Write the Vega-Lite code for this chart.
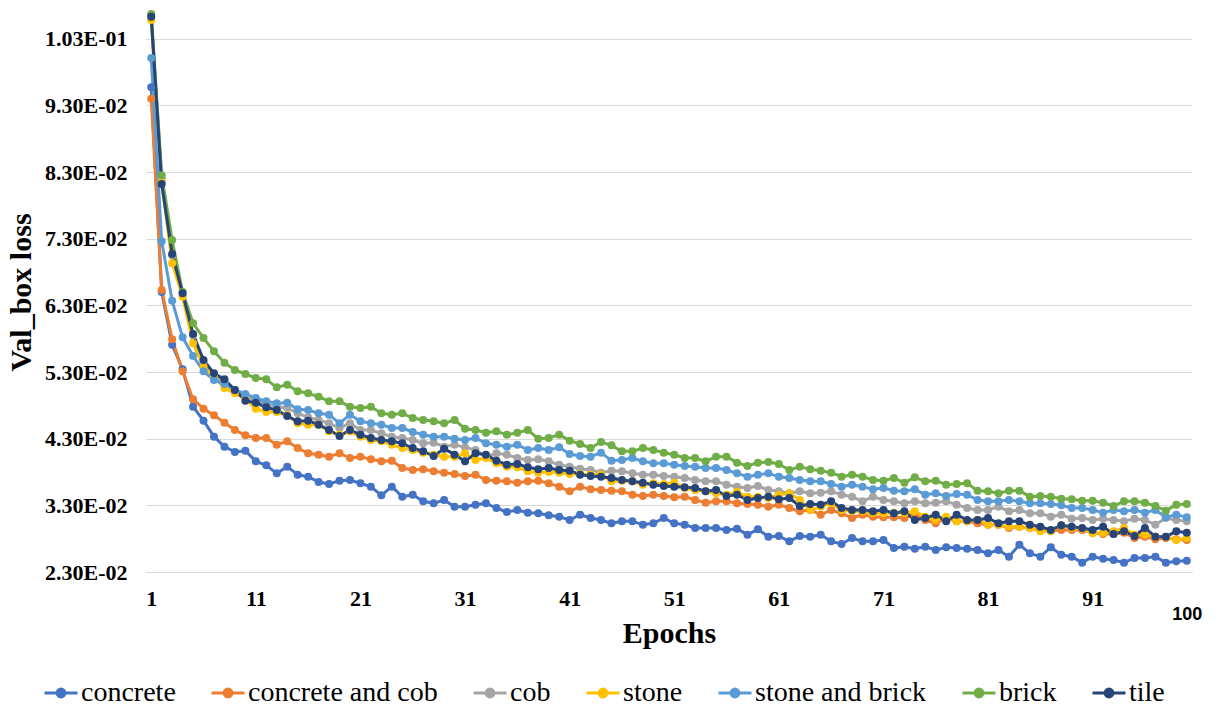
{
  "$schema": "https://vega.github.io/schema/vega-lite/v6.json",
  "autosize": {"type": "none"},
  "padding": {"left": 146, "top": 12, "right": 26, "bottom": 137},
  "width": 1046,
  "height": 560,
  "background": "white",
  "config": {
    "view": {"stroke": null},
    "axis": {
      "labelFont": "Liberation Serif",
      "labelFontWeight": "bold",
      "labelColor": "#000000",
      "titleFont": "Liberation Serif",
      "titleFontWeight": "bold",
      "titleColor": "#000000",
      "ticks": false
    },
    "legend": {
      "labelFont": "Liberation Serif",
      "labelFontSize": 28,
      "labelColor": "#000000"
    }
  },
  "data": {"values": [
    {"epoch":1,"material":"concrete","loss":0.0957},{"epoch":2,"material":"concrete","loss":0.0650},{"epoch":3,"material":"concrete","loss":0.0571},{"epoch":4,"material":"concrete","loss":0.0534},{"epoch":5,"material":"concrete","loss":0.0478},{"epoch":6,"material":"concrete","loss":0.0457},{"epoch":7,"material":"concrete","loss":0.0433},{"epoch":8,"material":"concrete","loss":0.0418},{"epoch":9,"material":"concrete","loss":0.0410},{"epoch":10,"material":"concrete","loss":0.0412},
    {"epoch":11,"material":"concrete","loss":0.0396},{"epoch":12,"material":"concrete","loss":0.0390},{"epoch":13,"material":"concrete","loss":0.0378},{"epoch":14,"material":"concrete","loss":0.0388},{"epoch":15,"material":"concrete","loss":0.0376},{"epoch":16,"material":"concrete","loss":0.0373},{"epoch":17,"material":"concrete","loss":0.0365},{"epoch":18,"material":"concrete","loss":0.0362},{"epoch":19,"material":"concrete","loss":0.0367},{"epoch":20,"material":"concrete","loss":0.0368},
    {"epoch":21,"material":"concrete","loss":0.0363},{"epoch":22,"material":"concrete","loss":0.0358},{"epoch":23,"material":"concrete","loss":0.0345},{"epoch":24,"material":"concrete","loss":0.0358},{"epoch":25,"material":"concrete","loss":0.0343},{"epoch":26,"material":"concrete","loss":0.0346},{"epoch":27,"material":"concrete","loss":0.0336},{"epoch":28,"material":"concrete","loss":0.0333},{"epoch":29,"material":"concrete","loss":0.0338},{"epoch":30,"material":"concrete","loss":0.0328},
    {"epoch":31,"material":"concrete","loss":0.0328},{"epoch":32,"material":"concrete","loss":0.0331},{"epoch":33,"material":"concrete","loss":0.0333},{"epoch":34,"material":"concrete","loss":0.0326},{"epoch":35,"material":"concrete","loss":0.0320},{"epoch":36,"material":"concrete","loss":0.0323},{"epoch":37,"material":"concrete","loss":0.0319},{"epoch":38,"material":"concrete","loss":0.0318},{"epoch":39,"material":"concrete","loss":0.0315},{"epoch":40,"material":"concrete","loss":0.0313},
    {"epoch":41,"material":"concrete","loss":0.0308},{"epoch":42,"material":"concrete","loss":0.0316},{"epoch":43,"material":"concrete","loss":0.0311},{"epoch":44,"material":"concrete","loss":0.0308},{"epoch":45,"material":"concrete","loss":0.0303},{"epoch":46,"material":"concrete","loss":0.0306},{"epoch":47,"material":"concrete","loss":0.0306},{"epoch":48,"material":"concrete","loss":0.0301},{"epoch":49,"material":"concrete","loss":0.0303},{"epoch":50,"material":"concrete","loss":0.0311},
    {"epoch":51,"material":"concrete","loss":0.0303},{"epoch":52,"material":"concrete","loss":0.0301},{"epoch":53,"material":"concrete","loss":0.0296},{"epoch":54,"material":"concrete","loss":0.0296},{"epoch":55,"material":"concrete","loss":0.0296},{"epoch":56,"material":"concrete","loss":0.0293},{"epoch":57,"material":"concrete","loss":0.0295},{"epoch":58,"material":"concrete","loss":0.0286},{"epoch":59,"material":"concrete","loss":0.0294},{"epoch":60,"material":"concrete","loss":0.0283},
    {"epoch":61,"material":"concrete","loss":0.0284},{"epoch":62,"material":"concrete","loss":0.0276},{"epoch":63,"material":"concrete","loss":0.0284},{"epoch":64,"material":"concrete","loss":0.0283},{"epoch":65,"material":"concrete","loss":0.0286},{"epoch":66,"material":"concrete","loss":0.0276},{"epoch":67,"material":"concrete","loss":0.0272},{"epoch":68,"material":"concrete","loss":0.0281},{"epoch":69,"material":"concrete","loss":0.0276},{"epoch":70,"material":"concrete","loss":0.0276},
    {"epoch":71,"material":"concrete","loss":0.0278},{"epoch":72,"material":"concrete","loss":0.0266},{"epoch":73,"material":"concrete","loss":0.0268},{"epoch":74,"material":"concrete","loss":0.0265},{"epoch":75,"material":"concrete","loss":0.0268},{"epoch":76,"material":"concrete","loss":0.0263},{"epoch":77,"material":"concrete","loss":0.0267},{"epoch":78,"material":"concrete","loss":0.0266},{"epoch":79,"material":"concrete","loss":0.0265},{"epoch":80,"material":"concrete","loss":0.0263},
    {"epoch":81,"material":"concrete","loss":0.0258},{"epoch":82,"material":"concrete","loss":0.0263},{"epoch":83,"material":"concrete","loss":0.0253},{"epoch":84,"material":"concrete","loss":0.0271},{"epoch":85,"material":"concrete","loss":0.0258},{"epoch":86,"material":"concrete","loss":0.0253},{"epoch":87,"material":"concrete","loss":0.0267},{"epoch":88,"material":"concrete","loss":0.0256},{"epoch":89,"material":"concrete","loss":0.0253},{"epoch":90,"material":"concrete","loss":0.0244},
    {"epoch":91,"material":"concrete","loss":0.0253},{"epoch":92,"material":"concrete","loss":0.0250},{"epoch":93,"material":"concrete","loss":0.0248},{"epoch":94,"material":"concrete","loss":0.0244},{"epoch":95,"material":"concrete","loss":0.0251},{"epoch":96,"material":"concrete","loss":0.0251},{"epoch":97,"material":"concrete","loss":0.0253},{"epoch":98,"material":"concrete","loss":0.0244},{"epoch":99,"material":"concrete","loss":0.0246},{"epoch":100,"material":"concrete","loss":0.0247},

    {"epoch":1,"material":"concrete and cob","loss":0.0940},{"epoch":2,"material":"concrete and cob","loss":0.0653},{"epoch":3,"material":"concrete and cob","loss":0.0579},{"epoch":4,"material":"concrete and cob","loss":0.0531},{"epoch":5,"material":"concrete and cob","loss":0.0489},{"epoch":6,"material":"concrete and cob","loss":0.0475},{"epoch":7,"material":"concrete and cob","loss":0.0465},{"epoch":8,"material":"concrete and cob","loss":0.0454},{"epoch":9,"material":"concrete and cob","loss":0.0443},{"epoch":10,"material":"concrete and cob","loss":0.0435},
    {"epoch":11,"material":"concrete and cob","loss":0.0431},{"epoch":12,"material":"concrete and cob","loss":0.0431},{"epoch":13,"material":"concrete and cob","loss":0.0421},{"epoch":14,"material":"concrete and cob","loss":0.0426},{"epoch":15,"material":"concrete and cob","loss":0.0416},{"epoch":16,"material":"concrete and cob","loss":0.0408},{"epoch":17,"material":"concrete and cob","loss":0.0406},{"epoch":18,"material":"concrete and cob","loss":0.0403},{"epoch":19,"material":"concrete and cob","loss":0.0408},{"epoch":20,"material":"concrete and cob","loss":0.0401},
    {"epoch":21,"material":"concrete and cob","loss":0.0403},{"epoch":22,"material":"concrete and cob","loss":0.0399},{"epoch":23,"material":"concrete and cob","loss":0.0396},{"epoch":24,"material":"concrete and cob","loss":0.0397},{"epoch":25,"material":"concrete and cob","loss":0.0386},{"epoch":26,"material":"concrete and cob","loss":0.0383},{"epoch":27,"material":"concrete and cob","loss":0.0384},{"epoch":28,"material":"concrete and cob","loss":0.0381},{"epoch":29,"material":"concrete and cob","loss":0.0379},{"epoch":30,"material":"concrete and cob","loss":0.0377},
    {"epoch":31,"material":"concrete and cob","loss":0.0374},{"epoch":32,"material":"concrete and cob","loss":0.0376},{"epoch":33,"material":"concrete and cob","loss":0.0368},{"epoch":34,"material":"concrete and cob","loss":0.0367},{"epoch":35,"material":"concrete and cob","loss":0.0366},{"epoch":36,"material":"concrete and cob","loss":0.0364},{"epoch":37,"material":"concrete and cob","loss":0.0366},{"epoch":38,"material":"concrete and cob","loss":0.0367},{"epoch":39,"material":"concrete and cob","loss":0.0363},{"epoch":40,"material":"concrete and cob","loss":0.0358},
    {"epoch":41,"material":"concrete and cob","loss":0.0351},{"epoch":42,"material":"concrete and cob","loss":0.0358},{"epoch":43,"material":"concrete and cob","loss":0.0354},{"epoch":44,"material":"concrete and cob","loss":0.0353},{"epoch":45,"material":"concrete and cob","loss":0.0352},{"epoch":46,"material":"concrete and cob","loss":0.0351},{"epoch":47,"material":"concrete and cob","loss":0.0346},{"epoch":48,"material":"concrete and cob","loss":0.0344},{"epoch":49,"material":"concrete and cob","loss":0.0346},{"epoch":50,"material":"concrete and cob","loss":0.0344},
    {"epoch":51,"material":"concrete and cob","loss":0.0342},{"epoch":52,"material":"concrete and cob","loss":0.0343},{"epoch":53,"material":"concrete and cob","loss":0.0338},{"epoch":54,"material":"concrete and cob","loss":0.0334},{"epoch":55,"material":"concrete and cob","loss":0.0336},{"epoch":56,"material":"concrete and cob","loss":0.0336},{"epoch":57,"material":"concrete and cob","loss":0.0333},{"epoch":58,"material":"concrete and cob","loss":0.0332},{"epoch":59,"material":"concrete and cob","loss":0.0331},{"epoch":60,"material":"concrete and cob","loss":0.0328},
    {"epoch":61,"material":"concrete and cob","loss":0.0331},{"epoch":62,"material":"concrete and cob","loss":0.0326},{"epoch":63,"material":"concrete and cob","loss":0.0321},{"epoch":64,"material":"concrete and cob","loss":0.0323},{"epoch":65,"material":"concrete and cob","loss":0.0316},{"epoch":66,"material":"concrete and cob","loss":0.0323},{"epoch":67,"material":"concrete and cob","loss":0.0318},{"epoch":68,"material":"concrete and cob","loss":0.0311},{"epoch":69,"material":"concrete and cob","loss":0.0316},{"epoch":70,"material":"concrete and cob","loss":0.0313},
    {"epoch":71,"material":"concrete and cob","loss":0.0312},{"epoch":72,"material":"concrete and cob","loss":0.0312},{"epoch":73,"material":"concrete and cob","loss":0.0311},{"epoch":74,"material":"concrete and cob","loss":0.0316},{"epoch":75,"material":"concrete and cob","loss":0.0308},{"epoch":76,"material":"concrete and cob","loss":0.0303},{"epoch":77,"material":"concrete and cob","loss":0.0311},{"epoch":78,"material":"concrete and cob","loss":0.0306},{"epoch":79,"material":"concrete and cob","loss":0.0306},{"epoch":80,"material":"concrete and cob","loss":0.0303},
    {"epoch":81,"material":"concrete and cob","loss":0.0301},{"epoch":82,"material":"concrete and cob","loss":0.0301},{"epoch":83,"material":"concrete and cob","loss":0.0296},{"epoch":84,"material":"concrete and cob","loss":0.0298},{"epoch":85,"material":"concrete and cob","loss":0.0296},{"epoch":86,"material":"concrete and cob","loss":0.0293},{"epoch":87,"material":"concrete and cob","loss":0.0292},{"epoch":88,"material":"concrete and cob","loss":0.0293},{"epoch":89,"material":"concrete and cob","loss":0.0293},{"epoch":90,"material":"concrete and cob","loss":0.0293},
    {"epoch":91,"material":"concrete and cob","loss":0.0289},{"epoch":92,"material":"concrete and cob","loss":0.0287},{"epoch":93,"material":"concrete and cob","loss":0.0287},{"epoch":94,"material":"concrete and cob","loss":0.0289},{"epoch":95,"material":"concrete and cob","loss":0.0281},{"epoch":96,"material":"concrete and cob","loss":0.0283},{"epoch":97,"material":"concrete and cob","loss":0.0279},{"epoch":98,"material":"concrete and cob","loss":0.0281},{"epoch":99,"material":"concrete and cob","loss":0.0279},{"epoch":100,"material":"concrete and cob","loss":0.0278},

    {"epoch":1,"material":"cob","loss":0.1065},{"epoch":2,"material":"cob","loss":0.0820},{"epoch":3,"material":"cob","loss":0.0705},{"epoch":4,"material":"cob","loss":0.0645},{"epoch":5,"material":"cob","loss":0.0585},{"epoch":6,"material":"cob","loss":0.0545},{"epoch":7,"material":"cob","loss":0.0525},{"epoch":8,"material":"cob","loss":0.0515},{"epoch":9,"material":"cob","loss":0.0500},{"epoch":10,"material":"cob","loss":0.0492},
    {"epoch":11,"material":"cob","loss":0.0488},{"epoch":12,"material":"cob","loss":0.0482},{"epoch":13,"material":"cob","loss":0.0478},{"epoch":14,"material":"cob","loss":0.0476},{"epoch":15,"material":"cob","loss":0.0468},{"epoch":16,"material":"cob","loss":0.0462},{"epoch":17,"material":"cob","loss":0.0458},{"epoch":18,"material":"cob","loss":0.0453},{"epoch":19,"material":"cob","loss":0.0446},{"epoch":20,"material":"cob","loss":0.0453},
    {"epoch":21,"material":"cob","loss":0.0443},{"epoch":22,"material":"cob","loss":0.0443},{"epoch":23,"material":"cob","loss":0.0438},{"epoch":24,"material":"cob","loss":0.0433},{"epoch":25,"material":"cob","loss":0.0431},{"epoch":26,"material":"cob","loss":0.0428},{"epoch":27,"material":"cob","loss":0.0423},{"epoch":28,"material":"cob","loss":0.0424},{"epoch":29,"material":"cob","loss":0.0418},{"epoch":30,"material":"cob","loss":0.0421},
    {"epoch":31,"material":"cob","loss":0.0417},{"epoch":32,"material":"cob","loss":0.0413},{"epoch":33,"material":"cob","loss":0.0403},{"epoch":34,"material":"cob","loss":0.0408},{"epoch":35,"material":"cob","loss":0.0406},{"epoch":36,"material":"cob","loss":0.0401},{"epoch":37,"material":"cob","loss":0.0398},{"epoch":38,"material":"cob","loss":0.0399},{"epoch":39,"material":"cob","loss":0.0396},{"epoch":40,"material":"cob","loss":0.0391},
    {"epoch":41,"material":"cob","loss":0.0388},{"epoch":42,"material":"cob","loss":0.0385},{"epoch":43,"material":"cob","loss":0.0383},{"epoch":44,"material":"cob","loss":0.0379},{"epoch":45,"material":"cob","loss":0.0382},{"epoch":46,"material":"cob","loss":0.0381},{"epoch":47,"material":"cob","loss":0.0378},{"epoch":48,"material":"cob","loss":0.0376},{"epoch":49,"material":"cob","loss":0.0376},{"epoch":50,"material":"cob","loss":0.0374},
    {"epoch":51,"material":"cob","loss":0.0373},{"epoch":52,"material":"cob","loss":0.0371},{"epoch":53,"material":"cob","loss":0.0368},{"epoch":54,"material":"cob","loss":0.0366},{"epoch":55,"material":"cob","loss":0.0366},{"epoch":56,"material":"cob","loss":0.0361},{"epoch":57,"material":"cob","loss":0.0358},{"epoch":58,"material":"cob","loss":0.0356},{"epoch":59,"material":"cob","loss":0.0359},{"epoch":60,"material":"cob","loss":0.0353},
    {"epoch":61,"material":"cob","loss":0.0351},{"epoch":62,"material":"cob","loss":0.0348},{"epoch":63,"material":"cob","loss":0.0351},{"epoch":64,"material":"cob","loss":0.0348},{"epoch":65,"material":"cob","loss":0.0349},{"epoch":66,"material":"cob","loss":0.0351},{"epoch":67,"material":"cob","loss":0.0346},{"epoch":68,"material":"cob","loss":0.0343},{"epoch":69,"material":"cob","loss":0.0336},{"epoch":70,"material":"cob","loss":0.0343},
    {"epoch":71,"material":"cob","loss":0.0338},{"epoch":72,"material":"cob","loss":0.0336},{"epoch":73,"material":"cob","loss":0.0333},{"epoch":74,"material":"cob","loss":0.0336},{"epoch":75,"material":"cob","loss":0.0333},{"epoch":76,"material":"cob","loss":0.0334},{"epoch":77,"material":"cob","loss":0.0336},{"epoch":78,"material":"cob","loss":0.0331},{"epoch":79,"material":"cob","loss":0.0326},{"epoch":80,"material":"cob","loss":0.0323},
    {"epoch":81,"material":"cob","loss":0.0323},{"epoch":82,"material":"cob","loss":0.0328},{"epoch":83,"material":"cob","loss":0.0321},{"epoch":84,"material":"cob","loss":0.0323},{"epoch":85,"material":"cob","loss":0.0318},{"epoch":86,"material":"cob","loss":0.0318},{"epoch":87,"material":"cob","loss":0.0313},{"epoch":88,"material":"cob","loss":0.0316},{"epoch":89,"material":"cob","loss":0.0310},{"epoch":90,"material":"cob","loss":0.0311},
    {"epoch":91,"material":"cob","loss":0.0308},{"epoch":92,"material":"cob","loss":0.0310},{"epoch":93,"material":"cob","loss":0.0308},{"epoch":94,"material":"cob","loss":0.0306},{"epoch":95,"material":"cob","loss":0.0310},{"epoch":96,"material":"cob","loss":0.0308},{"epoch":97,"material":"cob","loss":0.0301},{"epoch":98,"material":"cob","loss":0.0311},{"epoch":99,"material":"cob","loss":0.0308},{"epoch":100,"material":"cob","loss":0.0306},

    {"epoch":1,"material":"stone","loss":0.1058},{"epoch":2,"material":"stone","loss":0.0815},{"epoch":3,"material":"stone","loss":0.0693},{"epoch":4,"material":"stone","loss":0.0643},{"epoch":5,"material":"stone","loss":0.0573},{"epoch":6,"material":"stone","loss":0.0538},{"epoch":7,"material":"stone","loss":0.0523},{"epoch":8,"material":"stone","loss":0.0506},{"epoch":9,"material":"stone","loss":0.0498},{"epoch":10,"material":"stone","loss":0.0490},
    {"epoch":11,"material":"stone","loss":0.0475},{"epoch":12,"material":"stone","loss":0.0470},{"epoch":13,"material":"stone","loss":0.0470},{"epoch":14,"material":"stone","loss":0.0465},{"epoch":15,"material":"stone","loss":0.0453},{"epoch":16,"material":"stone","loss":0.0451},{"epoch":17,"material":"stone","loss":0.0451},{"epoch":18,"material":"stone","loss":0.0441},{"epoch":19,"material":"stone","loss":0.0436},{"epoch":20,"material":"stone","loss":0.0441},
    {"epoch":21,"material":"stone","loss":0.0433},{"epoch":22,"material":"stone","loss":0.0428},{"epoch":23,"material":"stone","loss":0.0426},{"epoch":24,"material":"stone","loss":0.0421},{"epoch":25,"material":"stone","loss":0.0416},{"epoch":26,"material":"stone","loss":0.0413},{"epoch":27,"material":"stone","loss":0.0409},{"epoch":28,"material":"stone","loss":0.0406},{"epoch":29,"material":"stone","loss":0.0403},{"epoch":30,"material":"stone","loss":0.0403},
    {"epoch":31,"material":"stone","loss":0.0408},{"epoch":32,"material":"stone","loss":0.0398},{"epoch":33,"material":"stone","loss":0.0401},{"epoch":34,"material":"stone","loss":0.0393},{"epoch":35,"material":"stone","loss":0.0388},{"epoch":36,"material":"stone","loss":0.0387},{"epoch":37,"material":"stone","loss":0.0381},{"epoch":38,"material":"stone","loss":0.0379},{"epoch":39,"material":"stone","loss":0.0380},{"epoch":40,"material":"stone","loss":0.0379},
    {"epoch":41,"material":"stone","loss":0.0377},{"epoch":42,"material":"stone","loss":0.0377},{"epoch":43,"material":"stone","loss":0.0376},{"epoch":44,"material":"stone","loss":0.0376},{"epoch":45,"material":"stone","loss":0.0366},{"epoch":46,"material":"stone","loss":0.0367},{"epoch":47,"material":"stone","loss":0.0366},{"epoch":48,"material":"stone","loss":0.0361},{"epoch":49,"material":"stone","loss":0.0363},{"epoch":50,"material":"stone","loss":0.0362},
    {"epoch":51,"material":"stone","loss":0.0364},{"epoch":52,"material":"stone","loss":0.0356},{"epoch":53,"material":"stone","loss":0.0353},{"epoch":54,"material":"stone","loss":0.0351},{"epoch":55,"material":"stone","loss":0.0348},{"epoch":56,"material":"stone","loss":0.0346},{"epoch":57,"material":"stone","loss":0.0350},{"epoch":58,"material":"stone","loss":0.0343},{"epoch":59,"material":"stone","loss":0.0343},{"epoch":60,"material":"stone","loss":0.0341},
    {"epoch":61,"material":"stone","loss":0.0346},{"epoch":62,"material":"stone","loss":0.0348},{"epoch":63,"material":"stone","loss":0.0338},{"epoch":64,"material":"stone","loss":0.0323},{"epoch":65,"material":"stone","loss":0.0328},{"epoch":66,"material":"stone","loss":0.0333},{"epoch":67,"material":"stone","loss":0.0323},{"epoch":68,"material":"stone","loss":0.0321},{"epoch":69,"material":"stone","loss":0.0321},{"epoch":70,"material":"stone","loss":0.0318},
    {"epoch":71,"material":"stone","loss":0.0318},{"epoch":72,"material":"stone","loss":0.0319},{"epoch":73,"material":"stone","loss":0.0318},{"epoch":74,"material":"stone","loss":0.0321},{"epoch":75,"material":"stone","loss":0.0313},{"epoch":76,"material":"stone","loss":0.0308},{"epoch":77,"material":"stone","loss":0.0313},{"epoch":78,"material":"stone","loss":0.0306},{"epoch":79,"material":"stone","loss":0.0306},{"epoch":80,"material":"stone","loss":0.0308},
    {"epoch":81,"material":"stone","loss":0.0301},{"epoch":82,"material":"stone","loss":0.0301},{"epoch":83,"material":"stone","loss":0.0298},{"epoch":84,"material":"stone","loss":0.0298},{"epoch":85,"material":"stone","loss":0.0296},{"epoch":86,"material":"stone","loss":0.0291},{"epoch":87,"material":"stone","loss":0.0291},{"epoch":88,"material":"stone","loss":0.0300},{"epoch":89,"material":"stone","loss":0.0296},{"epoch":90,"material":"stone","loss":0.0295},
    {"epoch":91,"material":"stone","loss":0.0288},{"epoch":92,"material":"stone","loss":0.0289},{"epoch":93,"material":"stone","loss":0.0291},{"epoch":94,"material":"stone","loss":0.0296},{"epoch":95,"material":"stone","loss":0.0286},{"epoch":96,"material":"stone","loss":0.0286},{"epoch":97,"material":"stone","loss":0.0283},{"epoch":98,"material":"stone","loss":0.0283},{"epoch":99,"material":"stone","loss":0.0278},{"epoch":100,"material":"stone","loss":0.0281},

    {"epoch":1,"material":"stone and brick","loss":0.1001},{"epoch":2,"material":"stone and brick","loss":0.0726},{"epoch":3,"material":"stone and brick","loss":0.0637},{"epoch":4,"material":"stone and brick","loss":0.0582},{"epoch":5,"material":"stone and brick","loss":0.0554},{"epoch":6,"material":"stone and brick","loss":0.0531},{"epoch":7,"material":"stone and brick","loss":0.0518},{"epoch":8,"material":"stone and brick","loss":0.0512},{"epoch":9,"material":"stone and brick","loss":0.0503},{"epoch":10,"material":"stone and brick","loss":0.0497},
    {"epoch":11,"material":"stone and brick","loss":0.0491},{"epoch":12,"material":"stone and brick","loss":0.0486},{"epoch":13,"material":"stone and brick","loss":0.0483},{"epoch":14,"material":"stone and brick","loss":0.0484},{"epoch":15,"material":"stone and brick","loss":0.0474},{"epoch":16,"material":"stone and brick","loss":0.0473},{"epoch":17,"material":"stone and brick","loss":0.0468},{"epoch":18,"material":"stone and brick","loss":0.0466},{"epoch":19,"material":"stone and brick","loss":0.0453},{"epoch":20,"material":"stone and brick","loss":0.0466},
    {"epoch":21,"material":"stone and brick","loss":0.0456},{"epoch":22,"material":"stone and brick","loss":0.0453},{"epoch":23,"material":"stone and brick","loss":0.0451},{"epoch":24,"material":"stone and brick","loss":0.0446},{"epoch":25,"material":"stone and brick","loss":0.0446},{"epoch":26,"material":"stone and brick","loss":0.0440},{"epoch":27,"material":"stone and brick","loss":0.0436},{"epoch":28,"material":"stone and brick","loss":0.0433},{"epoch":29,"material":"stone and brick","loss":0.0433},{"epoch":30,"material":"stone and brick","loss":0.0430},
    {"epoch":31,"material":"stone and brick","loss":0.0428},{"epoch":32,"material":"stone and brick","loss":0.0431},{"epoch":33,"material":"stone and brick","loss":0.0423},{"epoch":34,"material":"stone and brick","loss":0.0421},{"epoch":35,"material":"stone and brick","loss":0.0418},{"epoch":36,"material":"stone and brick","loss":0.0421},{"epoch":37,"material":"stone and brick","loss":0.0413},{"epoch":38,"material":"stone and brick","loss":0.0416},{"epoch":39,"material":"stone and brick","loss":0.0413},{"epoch":40,"material":"stone and brick","loss":0.0417},
    {"epoch":41,"material":"stone and brick","loss":0.0407},{"epoch":42,"material":"stone and brick","loss":0.0404},{"epoch":43,"material":"stone and brick","loss":0.0403},{"epoch":44,"material":"stone and brick","loss":0.0409},{"epoch":45,"material":"stone and brick","loss":0.0397},{"epoch":46,"material":"stone and brick","loss":0.0398},{"epoch":47,"material":"stone and brick","loss":0.0401},{"epoch":48,"material":"stone and brick","loss":0.0396},{"epoch":49,"material":"stone and brick","loss":0.0393},{"epoch":50,"material":"stone and brick","loss":0.0393},
    {"epoch":51,"material":"stone and brick","loss":0.0391},{"epoch":52,"material":"stone and brick","loss":0.0389},{"epoch":53,"material":"stone and brick","loss":0.0388},{"epoch":54,"material":"stone and brick","loss":0.0386},{"epoch":55,"material":"stone and brick","loss":0.0386},{"epoch":56,"material":"stone and brick","loss":0.0383},{"epoch":57,"material":"stone and brick","loss":0.0378},{"epoch":58,"material":"stone and brick","loss":0.0373},{"epoch":59,"material":"stone and brick","loss":0.0376},{"epoch":60,"material":"stone and brick","loss":0.0378},
    {"epoch":61,"material":"stone and brick","loss":0.0373},{"epoch":62,"material":"stone and brick","loss":0.0371},{"epoch":63,"material":"stone and brick","loss":0.0368},{"epoch":64,"material":"stone and brick","loss":0.0366},{"epoch":65,"material":"stone and brick","loss":0.0366},{"epoch":66,"material":"stone and brick","loss":0.0362},{"epoch":67,"material":"stone and brick","loss":0.0358},{"epoch":68,"material":"stone and brick","loss":0.0361},{"epoch":69,"material":"stone and brick","loss":0.0358},{"epoch":70,"material":"stone and brick","loss":0.0354},
    {"epoch":71,"material":"stone and brick","loss":0.0356},{"epoch":72,"material":"stone and brick","loss":0.0352},{"epoch":73,"material":"stone and brick","loss":0.0351},{"epoch":74,"material":"stone and brick","loss":0.0354},{"epoch":75,"material":"stone and brick","loss":0.0346},{"epoch":76,"material":"stone and brick","loss":0.0348},{"epoch":77,"material":"stone and brick","loss":0.0344},{"epoch":78,"material":"stone and brick","loss":0.0347},{"epoch":79,"material":"stone and brick","loss":0.0346},{"epoch":80,"material":"stone and brick","loss":0.0338},
    {"epoch":81,"material":"stone and brick","loss":0.0336},{"epoch":82,"material":"stone and brick","loss":0.0336},{"epoch":83,"material":"stone and brick","loss":0.0338},{"epoch":84,"material":"stone and brick","loss":0.0336},{"epoch":85,"material":"stone and brick","loss":0.0333},{"epoch":86,"material":"stone and brick","loss":0.0333},{"epoch":87,"material":"stone and brick","loss":0.0332},{"epoch":88,"material":"stone and brick","loss":0.0330},{"epoch":89,"material":"stone and brick","loss":0.0326},{"epoch":90,"material":"stone and brick","loss":0.0326},
    {"epoch":91,"material":"stone and brick","loss":0.0323},{"epoch":92,"material":"stone and brick","loss":0.0319},{"epoch":93,"material":"stone and brick","loss":0.0323},{"epoch":94,"material":"stone and brick","loss":0.0321},{"epoch":95,"material":"stone and brick","loss":0.0323},{"epoch":96,"material":"stone and brick","loss":0.0319},{"epoch":97,"material":"stone and brick","loss":0.0323},{"epoch":98,"material":"stone and brick","loss":0.0312},{"epoch":99,"material":"stone and brick","loss":0.0316},{"epoch":100,"material":"stone and brick","loss":0.0312},

    {"epoch":1,"material":"brick","loss":0.1067},{"epoch":2,"material":"brick","loss":0.0825},{"epoch":3,"material":"brick","loss":0.0728},{"epoch":4,"material":"brick","loss":0.0650},{"epoch":5,"material":"brick","loss":0.0603},{"epoch":6,"material":"brick","loss":0.0581},{"epoch":7,"material":"brick","loss":0.0561},{"epoch":8,"material":"brick","loss":0.0544},{"epoch":9,"material":"brick","loss":0.0533},{"epoch":10,"material":"brick","loss":0.0527},
    {"epoch":11,"material":"brick","loss":0.0521},{"epoch":12,"material":"brick","loss":0.0519},{"epoch":13,"material":"brick","loss":0.0507},{"epoch":14,"material":"brick","loss":0.0511},{"epoch":15,"material":"brick","loss":0.0501},{"epoch":16,"material":"brick","loss":0.0498},{"epoch":17,"material":"brick","loss":0.0493},{"epoch":18,"material":"brick","loss":0.0486},{"epoch":19,"material":"brick","loss":0.0486},{"epoch":20,"material":"brick","loss":0.0478},
    {"epoch":21,"material":"brick","loss":0.0476},{"epoch":22,"material":"brick","loss":0.0478},{"epoch":23,"material":"brick","loss":0.0468},{"epoch":24,"material":"brick","loss":0.0466},{"epoch":25,"material":"brick","loss":0.0468},{"epoch":26,"material":"brick","loss":0.0461},{"epoch":27,"material":"brick","loss":0.0458},{"epoch":28,"material":"brick","loss":0.0456},{"epoch":29,"material":"brick","loss":0.0453},{"epoch":30,"material":"brick","loss":0.0458},
    {"epoch":31,"material":"brick","loss":0.0445},{"epoch":32,"material":"brick","loss":0.0443},{"epoch":33,"material":"brick","loss":0.0439},{"epoch":34,"material":"brick","loss":0.0441},{"epoch":35,"material":"brick","loss":0.0436},{"epoch":36,"material":"brick","loss":0.0439},{"epoch":37,"material":"brick","loss":0.0443},{"epoch":38,"material":"brick","loss":0.0430},{"epoch":39,"material":"brick","loss":0.0431},{"epoch":40,"material":"brick","loss":0.0436},
    {"epoch":41,"material":"brick","loss":0.0427},{"epoch":42,"material":"brick","loss":0.0422},{"epoch":43,"material":"brick","loss":0.0416},{"epoch":44,"material":"brick","loss":0.0425},{"epoch":45,"material":"brick","loss":0.0420},{"epoch":46,"material":"brick","loss":0.0411},{"epoch":47,"material":"brick","loss":0.0411},{"epoch":48,"material":"brick","loss":0.0416},{"epoch":49,"material":"brick","loss":0.0413},{"epoch":50,"material":"brick","loss":0.0409},
    {"epoch":51,"material":"brick","loss":0.0406},{"epoch":52,"material":"brick","loss":0.0401},{"epoch":53,"material":"brick","loss":0.0401},{"epoch":54,"material":"brick","loss":0.0396},{"epoch":55,"material":"brick","loss":0.0403},{"epoch":56,"material":"brick","loss":0.0403},{"epoch":57,"material":"brick","loss":0.0394},{"epoch":58,"material":"brick","loss":0.0389},{"epoch":59,"material":"brick","loss":0.0394},{"epoch":60,"material":"brick","loss":0.0395},
    {"epoch":61,"material":"brick","loss":0.0392},{"epoch":62,"material":"brick","loss":0.0383},{"epoch":63,"material":"brick","loss":0.0388},{"epoch":64,"material":"brick","loss":0.0384},{"epoch":65,"material":"brick","loss":0.0382},{"epoch":66,"material":"brick","loss":0.0379},{"epoch":67,"material":"brick","loss":0.0373},{"epoch":68,"material":"brick","loss":0.0376},{"epoch":69,"material":"brick","loss":0.0373},{"epoch":70,"material":"brick","loss":0.0368},
    {"epoch":71,"material":"brick","loss":0.0367},{"epoch":72,"material":"brick","loss":0.0371},{"epoch":73,"material":"brick","loss":0.0364},{"epoch":74,"material":"brick","loss":0.0372},{"epoch":75,"material":"brick","loss":0.0366},{"epoch":76,"material":"brick","loss":0.0367},{"epoch":77,"material":"brick","loss":0.0361},{"epoch":78,"material":"brick","loss":0.0362},{"epoch":79,"material":"brick","loss":0.0363},{"epoch":80,"material":"brick","loss":0.0352},
    {"epoch":81,"material":"brick","loss":0.0351},{"epoch":82,"material":"brick","loss":0.0348},{"epoch":83,"material":"brick","loss":0.0352},{"epoch":84,"material":"brick","loss":0.0352},{"epoch":85,"material":"brick","loss":0.0343},{"epoch":86,"material":"brick","loss":0.0344},{"epoch":87,"material":"brick","loss":0.0343},{"epoch":88,"material":"brick","loss":0.0340},{"epoch":89,"material":"brick","loss":0.0339},{"epoch":90,"material":"brick","loss":0.0337},
    {"epoch":91,"material":"brick","loss":0.0337},{"epoch":92,"material":"brick","loss":0.0334},{"epoch":93,"material":"brick","loss":0.0329},{"epoch":94,"material":"brick","loss":0.0336},{"epoch":95,"material":"brick","loss":0.0336},{"epoch":96,"material":"brick","loss":0.0334},{"epoch":97,"material":"brick","loss":0.0329},{"epoch":98,"material":"brick","loss":0.0322},{"epoch":99,"material":"brick","loss":0.0331},{"epoch":100,"material":"brick","loss":0.0332},

    {"epoch":1,"material":"tile","loss":0.1063},{"epoch":2,"material":"tile","loss":0.0812},{"epoch":3,"material":"tile","loss":0.0707},{"epoch":4,"material":"tile","loss":0.0648},{"epoch":5,"material":"tile","loss":0.0587},{"epoch":6,"material":"tile","loss":0.0548},{"epoch":7,"material":"tile","loss":0.0528},{"epoch":8,"material":"tile","loss":0.0519},{"epoch":9,"material":"tile","loss":0.0503},{"epoch":10,"material":"tile","loss":0.0487},
    {"epoch":11,"material":"tile","loss":0.0484},{"epoch":12,"material":"tile","loss":0.0477},{"epoch":13,"material":"tile","loss":0.0473},{"epoch":14,"material":"tile","loss":0.0464},{"epoch":15,"material":"tile","loss":0.0456},{"epoch":16,"material":"tile","loss":0.0457},{"epoch":17,"material":"tile","loss":0.0451},{"epoch":18,"material":"tile","loss":0.0443},{"epoch":19,"material":"tile","loss":0.0434},{"epoch":20,"material":"tile","loss":0.0443},
    {"epoch":21,"material":"tile","loss":0.0436},{"epoch":22,"material":"tile","loss":0.0431},{"epoch":23,"material":"tile","loss":0.0428},{"epoch":24,"material":"tile","loss":0.0426},{"epoch":25,"material":"tile","loss":0.0423},{"epoch":26,"material":"tile","loss":0.0416},{"epoch":27,"material":"tile","loss":0.0411},{"epoch":28,"material":"tile","loss":0.0404},{"epoch":29,"material":"tile","loss":0.0415},{"epoch":30,"material":"tile","loss":0.0406},
    {"epoch":31,"material":"tile","loss":0.0396},{"epoch":32,"material":"tile","loss":0.0408},{"epoch":33,"material":"tile","loss":0.0406},{"epoch":34,"material":"tile","loss":0.0397},{"epoch":35,"material":"tile","loss":0.0391},{"epoch":36,"material":"tile","loss":0.0392},{"epoch":37,"material":"tile","loss":0.0387},{"epoch":38,"material":"tile","loss":0.0384},{"epoch":39,"material":"tile","loss":0.0386},{"epoch":40,"material":"tile","loss":0.0383},
    {"epoch":41,"material":"tile","loss":0.0382},{"epoch":42,"material":"tile","loss":0.0376},{"epoch":43,"material":"tile","loss":0.0374},{"epoch":44,"material":"tile","loss":0.0373},{"epoch":45,"material":"tile","loss":0.0371},{"epoch":46,"material":"tile","loss":0.0368},{"epoch":47,"material":"tile","loss":0.0366},{"epoch":48,"material":"tile","loss":0.0364},{"epoch":49,"material":"tile","loss":0.0361},{"epoch":50,"material":"tile","loss":0.0359},
    {"epoch":51,"material":"tile","loss":0.0358},{"epoch":52,"material":"tile","loss":0.0357},{"epoch":53,"material":"tile","loss":0.0356},{"epoch":54,"material":"tile","loss":0.0351},{"epoch":55,"material":"tile","loss":0.0353},{"epoch":56,"material":"tile","loss":0.0344},{"epoch":57,"material":"tile","loss":0.0346},{"epoch":58,"material":"tile","loss":0.0338},{"epoch":59,"material":"tile","loss":0.0341},{"epoch":60,"material":"tile","loss":0.0343},
    {"epoch":61,"material":"tile","loss":0.0339},{"epoch":62,"material":"tile","loss":0.0341},{"epoch":63,"material":"tile","loss":0.0329},{"epoch":64,"material":"tile","loss":0.0332},{"epoch":65,"material":"tile","loss":0.0331},{"epoch":66,"material":"tile","loss":0.0336},{"epoch":67,"material":"tile","loss":0.0326},{"epoch":68,"material":"tile","loss":0.0323},{"epoch":69,"material":"tile","loss":0.0323},{"epoch":70,"material":"tile","loss":0.0321},
    {"epoch":71,"material":"tile","loss":0.0323},{"epoch":72,"material":"tile","loss":0.0318},{"epoch":73,"material":"tile","loss":0.0321},{"epoch":74,"material":"tile","loss":0.0308},{"epoch":75,"material":"tile","loss":0.0311},{"epoch":76,"material":"tile","loss":0.0316},{"epoch":77,"material":"tile","loss":0.0306},{"epoch":78,"material":"tile","loss":0.0316},{"epoch":79,"material":"tile","loss":0.0308},{"epoch":80,"material":"tile","loss":0.0308},
    {"epoch":81,"material":"tile","loss":0.0311},{"epoch":82,"material":"tile","loss":0.0303},{"epoch":83,"material":"tile","loss":0.0306},{"epoch":84,"material":"tile","loss":0.0306},{"epoch":85,"material":"tile","loss":0.0301},{"epoch":86,"material":"tile","loss":0.0298},{"epoch":87,"material":"tile","loss":0.0293},{"epoch":88,"material":"tile","loss":0.0300},{"epoch":89,"material":"tile","loss":0.0298},{"epoch":90,"material":"tile","loss":0.0296},
    {"epoch":91,"material":"tile","loss":0.0293},{"epoch":92,"material":"tile","loss":0.0298},{"epoch":93,"material":"tile","loss":0.0287},{"epoch":94,"material":"tile","loss":0.0291},{"epoch":95,"material":"tile","loss":0.0284},{"epoch":96,"material":"tile","loss":0.0296},{"epoch":97,"material":"tile","loss":0.0283},{"epoch":98,"material":"tile","loss":0.0283},{"epoch":99,"material":"tile","loss":0.0291},{"epoch":100,"material":"tile","loss":0.0289}
  ]},
  "encoding": {
    "x": {
      "field": "epoch",
      "type": "quantitative",
      "scale": {"domain": [0.5, 100.5], "nice": false, "zero": false},
      "axis": {
        "title": "Epochs",
        "titleFontSize": 30,
        "titlePadding": -5,
        "values": [1, 11, 21, 31, 41, 51, 61, 71, 81, 91, 100],
        "labelExpr": "datum.value == 100 ? ['', '100'] : datum.label",
        "labelFontSize": {"condition": {"test": "datum.value == 100", "value": 18}, "value": 22},
        "labelFont": {"condition": {"test": "datum.value == 100", "value": "Liberation Sans"}, "value": "Liberation Serif"},
        "labelLineHeight": 17,
        "labelPadding": 16,
        "labelBaseline": "top",
        "labelFlush": false,
        "labelOverlap": false,
        "grid": false,
        "domain": true,
        "domainColor": "#d9d9d9",
        "domainWidth": 1
      }
    },
    "y": {
      "field": "loss",
      "type": "quantitative",
      "scale": {"domain": [0.023, 0.107], "nice": false, "zero": false},
      "axis": {
        "title": "Val_box loss",
        "titleFontSize": 30,
        "titlePadding": 8,
        "values": [0.023, 0.033, 0.043, 0.053, 0.063, 0.073, 0.083, 0.093, 0.103],
        "labelExpr": "format(datum.value / pow(10, floor(log(datum.value) / LN10 + 1e-9)), '.2f') + 'E-0' + (-floor(log(datum.value) / LN10 + 1e-9))",
        "labelFontSize": 22,
        "labelPadding": 19,
        "grid": true,
        "gridColor": "#d9d9d9",
        "gridWidth": 1,
        "domain": false
      }
    },
    "color": {
      "field": "material",
      "type": "nominal",
      "scale": {
        "domain": ["concrete", "concrete and cob", "cob", "stone", "stone and brick", "brick", "tile"],
        "range": ["#4472C4", "#ED7D31", "#A5A5A5", "#FFC000", "#5B9BD5", "#70AD47", "#264478"]
      },
      "legend": {
        "title": null,
        "orient": "none",
        "direction": "horizontal",
        "columns": 7,
        "legendX": -103,
        "legendY": 663,
        "labelFont": "Liberation Serif",
        "labelFontSize": 28,
        "labelLimit": 0,
        "labelColor": "#000000",
        "labelOffset": 2,
        "columnPadding": 29,
        "symbolType": "M-1,0L1,0M-0.24,0A0.24,0.24,0,1,1,0.24,0A0.24,0.24,0,1,1,-0.24,0Z",
        "symbolSize": 1089,
        "symbolStrokeWidth": 3,
        "encode": {
          "symbols": {
            "update": {
              "fill": {"scale": "color", "field": "value"},
              "stroke": {"scale": "color", "field": "value"},
              "strokeWidth": {"value": 3},
              "opacity": {"value": 1}
            }
          },
          "labels": {
            "update": {
              "font": {"value": "Liberation Serif"},
              "fontSize": {"value": 28},
              "fill": {"value": "#000000"}
            }
          }
        }
      }
    }
  },
  "layer": [
    {"mark": {"type": "line", "strokeWidth": 3, "strokeJoin": "round", "strokeCap": "round"}},
    {"mark": {"type": "point", "shape": "circle", "filled": true, "size": 64, "opacity": 1}}
  ]
}
